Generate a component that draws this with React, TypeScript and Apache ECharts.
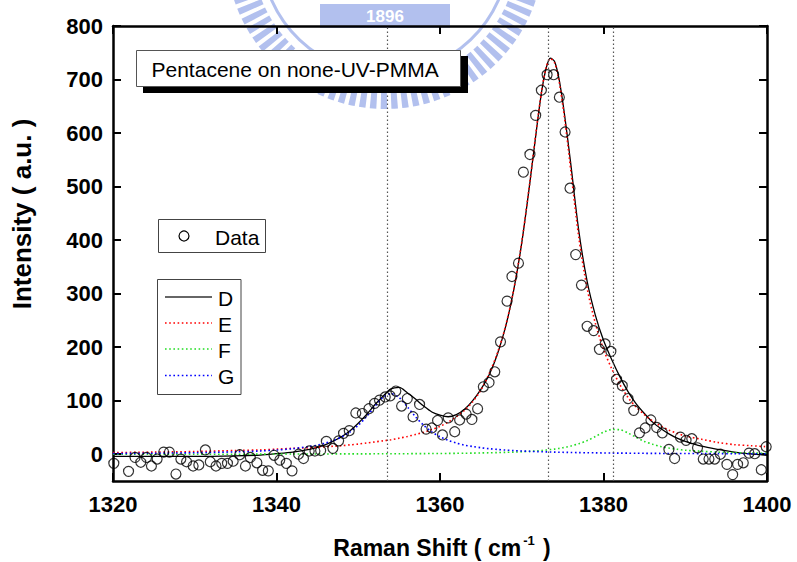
import React, { useEffect, useRef } from 'react';
import * as echarts from 'echarts';

// ---- data ----
const curveShift = [1320, 1325, 1330, 1335, 1338, 1340, 1342, 1344, 1345, 1346, 1347, 1348, 1349, 1350, 1351, 1352, 1353, 1354, 1355, 1356, 1357, 1358, 1359, 1360, 1361, 1362, 1363, 1364, 1365, 1366, 1367, 1368, 1369, 1370, 1371, 1372, 1372.5, 1373, 1373.5, 1374, 1374.5, 1375, 1375.5, 1376, 1377, 1378, 1379, 1380, 1381, 1382, 1383, 1384, 1385, 1386, 1387, 1388, 1389, 1390, 1392, 1394, 1396, 1398, 1400];
const fitD = [-4, -4, -4, -3, -1.5, 1, 4, 9, 13, 18, 25, 33, 44, 58, 74, 92, 108, 122, 125, 115, 103, 90, 79, 73, 70, 74, 84, 100, 121, 148, 186, 237, 305, 395, 508, 630, 684, 722, 740, 734, 706, 660, 603, 542, 415, 323, 260, 213, 177, 145, 117, 94, 76, 60, 48, 38, 30, 24, 15, 9, 4, 0.5, -2];
const fitE = [3, 4, 5, 7, 8, 9.5, 11, 12, 13, 14, 15, 16, 17.5, 19, 21, 23, 25, 27, 30, 33, 37, 41, 46, 52, 60, 70, 82, 98, 120, 150, 188, 238, 306, 396, 510, 632, 685, 723, 739, 732, 702, 654, 596, 530, 403, 310, 245, 196, 160, 130, 106, 88, 74, 62, 53, 45, 39, 34, 28, 22, 18, 16, 14];
const fitF = [0, 0, 0, 0, 0.2, 0.4, 0.4, 0.5, 0.5, 0.5, 0.6, 0.6, 0.6, 0.7, 0.7, 0.8, 0.8, 0.9, 0.9, 1.0, 1.1, 1.2, 1.3, 1.4, 1.5, 1.7, 1.9, 2.1, 2.4, 2.7, 3.1, 3.5, 4.0, 4.6, 5.4, 6.5, 7.1, 7.9, 8.7, 9.6, 10.7, 12, 13.5, 15.3, 19.8, 25.5, 33, 41, 46.2, 45.8, 39.5, 31.5, 24, 18.8, 14.4, 11.5, 9.3, 7.5, 5.5, 4, 2.9, 2.3, 1.8];
const fitG = [1.4, 1.9, 2.8, 4.4, 6.1, 7.8, 10.4, 14.4, 17, 21, 26, 32.6, 41.7, 54, 70, 88.7, 105.8, 113, 105.8, 88.7, 70, 54, 41.7, 32.6, 26, 21, 17, 14.4, 12.2, 10.4, 9, 7.8, 6.9, 6.1, 5.4, 4.9, 4.6, 4.4, 4.2, 4.0, 3.8, 3.6, 3.5, 3.3, 3.0, 2.8, 2.6, 2.4, 2.2, 2.1, 2.0, 1.8, 1.7, 1.6, 1.5, 1.4, 1.35, 1.3, 1.2, 1.1, 1.0, 0.9, 0.8];

const dataShift = [1320.1, 1321.9, 1322.7, 1323.4, 1324.1, 1324.7, 1325.4, 1326.2, 1326.9, 1327.7, 1328.3, 1329.0, 1329.8, 1330.5, 1331.3, 1331.9, 1332.6, 1333.3, 1334.0, 1334.7, 1335.5, 1336.2, 1336.8, 1337.6, 1338.3, 1339.0, 1339.7, 1340.4, 1341.2, 1341.9, 1342.7, 1343.3, 1344.0, 1344.7, 1345.4, 1346.1, 1346.9, 1347.6, 1348.2, 1348.9, 1349.7, 1350.5, 1351.3, 1352.0, 1352.6, 1353.3, 1353.9, 1354.6, 1355.3, 1356.0, 1356.7, 1357.5, 1358.3, 1359.0, 1359.7, 1360.3, 1361.0, 1361.8, 1362.4, 1363.2, 1363.9, 1364.6, 1365.3, 1366.0, 1366.7, 1367.4, 1368.2, 1368.8, 1369.6, 1370.2, 1371.0, 1371.7, 1372.4, 1373.1, 1373.9, 1374.6, 1375.3, 1375.9, 1376.6, 1377.3, 1378.0, 1378.8, 1379.5, 1380.2, 1380.9, 1381.6, 1382.3, 1383.0, 1383.7, 1384.4, 1385.1, 1385.8, 1386.5, 1387.2, 1388.0, 1388.7, 1389.4, 1390.1, 1390.8, 1391.5, 1392.2, 1392.9, 1393.6, 1394.3, 1395.1, 1395.8, 1396.4, 1397.1, 1397.8, 1398.5, 1399.3, 1399.9];
const dataIntensity = [-17, -32, -6, -15, -6, -22, -9, 4, 4, -37, -9, -14, -22, -20, 8, -14, -22, -17, -17, -13, -1, -22, -6, -16, -30, -31, -2, -11, -17, -31, 0, -8, 6, 6, 7, 24, 11, 25, 39, 44, 77, 76, 85, 95, 101, 107, 109, 118, 90, 104, 70, 93, 47, 49, 63, 36, 68, 42, 64, 75, 65, 85, 126, 134, 154, 210, 286, 332, 357, 527, 560, 633, 680, 709, 709, 667, 602, 497, 373, 316, 239, 231, 196, 206, 192, 140, 128, 104, 82, 40, 49, 64, 50, 40, 9, -8, 32, 26, 29, 12, -9, -9, -9, 0, -19, -38, -19, -16, 2, 1, -29, 14];

const peakMarkers = [1353.6, 1373.3, 1381.2];
const yTicks = [0, 100, 200, 300, 400, 500, 600, 700, 800];
const legendFits = ['D', 'E', 'F', 'G'];
const fitColors = ['#000000', '#ff0000', '#22dd22', '#0000ff'];

const FONT = '"Liberation Sans", Arial, Helvetica, sans-serif';

export default function App() {
  const ref = useRef<HTMLDivElement>(null);

  useEffect(() => {
    const chart = echarts.init(ref.current as HTMLDivElement, null, { renderer: 'svg' });
    const pair = (xs: number[], ys: number[]) => xs.map((x, i) => [x, ys[i]]);
    const dotted = (color: string) => ({ color, width: 1.6, type: [1.6, 2.6] as number[] });

    const axisLine = { show: true, onZero: false, lineStyle: { color: '#000', width: 2.5 } };
    const tick = { show: true, inside: true, length: 8, lineStyle: { color: '#000', width: 2 } };
    const labelStyle = { fontFamily: FONT, fontSize: 22, fontWeight: 'bold' as const, color: '#000' };

    const wmColor = '#9fb0ea';
    const legendLineY = [297, 323, 349, 375.5];

    const option: any = {
      animation: false,
      backgroundColor: '#ffffff',
      grid: { left: 113, right: 30, top: 26, bottom: 81, containLabel: false },
      xAxis: [
        {
          type: 'value', min: 1320, max: 1400, interval: 20, position: 'bottom',
          axisLine, axisTick: tick,
          axisLabel: { ...labelStyle, margin: 12, formatter: (v: number) => String(v) },
          splitLine: { show: false },
        },
        {
          type: 'value', min: 1320, max: 1400, interval: 20, position: 'top',
          axisLine, axisTick: tick, axisLabel: { show: false }, splitLine: { show: false },
        },
      ],
      yAxis: [
        {
          type: 'value', min: -50, max: 800, position: 'left',
          axisLine, axisTick: { ...tick, customValues: yTicks },
          axisLabel: { ...labelStyle, margin: 10, customValues: yTicks, formatter: (v: number) => String(v) },
          splitLine: { show: false },
        },
        {
          type: 'value', min: -50, max: 800, position: 'right',
          axisLine, axisTick: { ...tick, customValues: yTicks },
          axisLabel: { show: false, customValues: yTicks }, splitLine: { show: false },
        },
      ],
      graphic: [
        // faint emblem watermark at the top
        {
          type: 'group', z: 0, silent: true,
          children: [
            { type: 'arc', shape: { cx: 385, cy: -50, r: 146, startAngle: 0.05, endAngle: Math.PI - 0.05 },
              style: { stroke: wmColor, lineWidth: 26, lineDash: [6, 4], fill: null, opacity: 0.8 } },
            { type: 'arc', shape: { cx: 385, cy: -50, r: 124, startAngle: 0.05, endAngle: Math.PI - 0.05 },
              style: { stroke: wmColor, lineWidth: 3, fill: null, opacity: 0.8 } },
            { type: 'rect', shape: { x: 320, y: 4, width: 130, height: 24 },
              style: { fill: wmColor, opacity: 0.8 } },
            { type: 'text', x: 385, y: 16,
              style: { text: '1896', fill: '#ffffff', font: `bold 17px ${FONT}`, align: 'center', verticalAlign: 'middle' } },
          ],
        },
        // annotation box with shadow
        { type: 'rect', z: 10, shape: { x: 143, y: 56, width: 325, height: 37 }, style: { fill: '#000' } },
        { type: 'rect', z: 11, shape: { x: 136.5, y: 50.5, width: 324, height: 36 }, style: { fill: '#fff', stroke: '#555', lineWidth: 1 } },
        { type: 'text', z: 12, x: 151.5, y: 69,
          style: { text: 'Pentacene on none-UV-PMMA', fill: '#000', font: `21px ${FONT}`, verticalAlign: 'middle' } },
        // Data legend
        { type: 'rect', z: 10, shape: { x: 158.5, y: 219.5, width: 107, height: 33 }, style: { fill: '#fff', stroke: '#444', lineWidth: 1 } },
        { type: 'circle', z: 11, shape: { cx: 184, cy: 236, r: 5 }, style: { fill: 'none', stroke: '#000', lineWidth: 1.2 } },
        { type: 'text', z: 11, x: 215, y: 237,
          style: { text: 'Data', fill: '#000', font: `21px ${FONT}`, verticalAlign: 'middle' } },
        // Fit legend
        { type: 'rect', z: 10, shape: { x: 157.5, y: 279.5, width: 83.5, height: 115 }, style: { fill: '#fff', stroke: '#444', lineWidth: 1 } },
        ...legendFits.map((name, i) => ({
          type: 'line', z: 11,
          shape: { x1: 165, y1: legendLineY[i], x2: 212, y2: legendLineY[i] },
          style: i === 0
            ? { stroke: '#333', lineWidth: 1.3 }
            : { stroke: fitColors[i], lineWidth: 1.6, lineDash: [1.6, 2.6] },
        })),
        ...legendFits.map((name, i) => ({
          type: 'text', z: 11, x: 218, y: legendLineY[i] + 1,
          style: { text: name, fill: '#000', font: `21px ${FONT}`, verticalAlign: 'middle' },
        })),
        // axis titles
        { type: 'text', z: 12, x: 22, y: 214, rotation: Math.PI / 2,
          style: { text: 'Intensity ( a.u. )', fill: '#000', font: `bold 26px ${FONT}`, align: 'center', verticalAlign: 'middle' } },
        { type: 'text', z: 12, x: 442, y: 548,
          style: {
            text: '{a|Raman Shift ( cm}{s|-1}{a| )}',
            align: 'center', verticalAlign: 'middle',
            rich: {
              a: { fontFamily: FONT, fontSize: 23, fontWeight: 'bold', fill: '#000', lineHeight: 28 },
              s: { fontFamily: FONT, fontSize: 13, fontWeight: 'bold', fill: '#000', lineHeight: 28, verticalAlign: 'top', padding: [0, 2, 10, 2] },
            },
          } },
      ],
      series: [
        {
          name: 'D', type: 'line', data: pair(curveShift, fitD), showSymbol: false, smooth: 0.3,
          lineStyle: { color: '#000', width: 1.3 }, z: 3,
          markLine: {
            silent: true, symbol: 'none', label: { show: false },
            lineStyle: { color: '#555', width: 1.2, type: [1.4, 2.6] },
            data: peakMarkers.map((v) => ({ xAxis: v })),
          },
        },
        { name: 'E', type: 'line', data: pair(curveShift, fitE), showSymbol: false, smooth: 0.3, lineStyle: dotted(fitColors[1]), z: 4 },
        { name: 'F', type: 'line', data: pair(curveShift, fitF), showSymbol: false, smooth: 0.3, lineStyle: dotted(fitColors[2]), z: 4 },
        { name: 'G', type: 'line', data: pair(curveShift, fitG), showSymbol: false, smooth: 0.3, lineStyle: dotted(fitColors[3]), z: 4 },
        {
          name: 'Data', type: 'scatter', data: pair(dataShift, dataIntensity),
          symbol: 'circle', symbolSize: 10,
          itemStyle: { color: 'rgba(0,0,0,0)', borderColor: '#000', borderWidth: 1.2 }, z: 5,
        },
      ],
    };

    chart.setOption(option);
    return () => chart.dispose();
  }, []);

  return (
    <div
      ref={ref}
      style={{ position: 'fixed', left: 0, top: 0, width: 797, height: 562, background: '#fff' }}
    />
  );
}
